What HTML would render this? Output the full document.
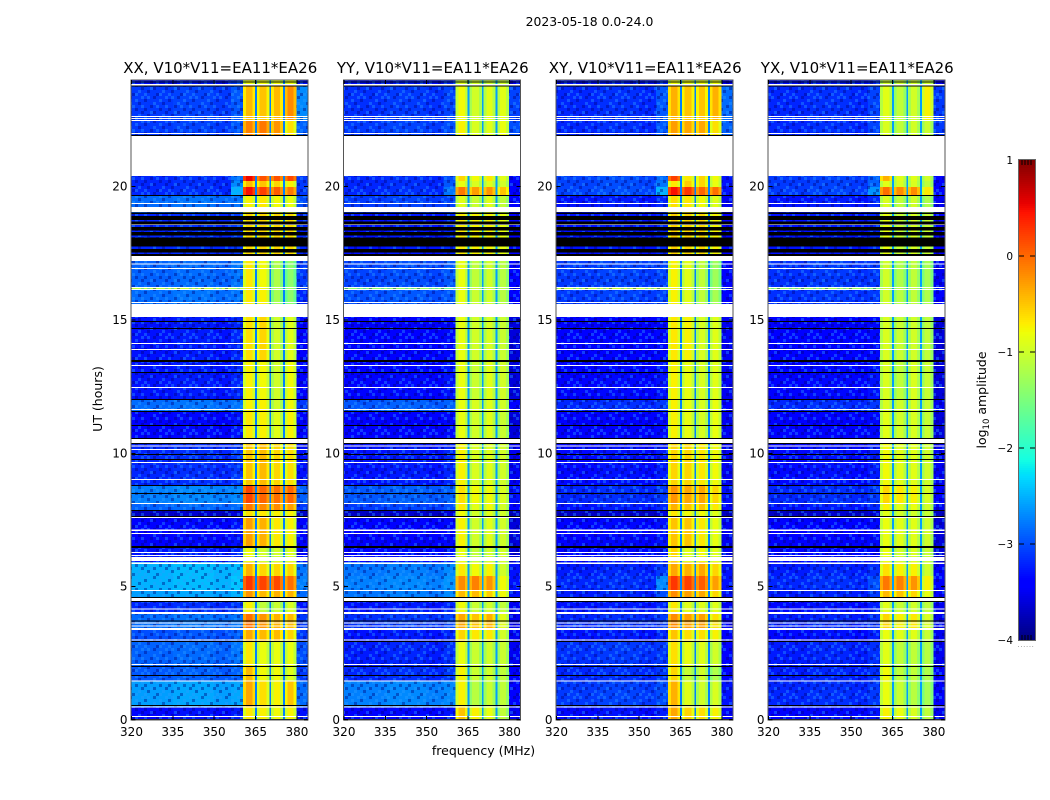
<!DOCTYPE html>
<html lang="en">
<head>
<meta charset="utf-8">
<title>2023-05-18 0.0-24.0</title>
<style>
html,body{margin:0;padding:0;background:#fff;}
svg{display:block;}
text{font-family:"DejaVu Sans","Liberation Sans",sans-serif;fill:#000;}
</style>
</head>
<body>
<svg id="figure" xmlns="http://www.w3.org/2000/svg" width="1050" height="800" viewBox="0 0 1050 800" shape-rendering="crispEdges">
  <defs>
    <pattern id="speckle" width="24" height="24" patternUnits="userSpaceOnUse">
      <g fill="#000078">
        <rect x="0" y="3" width="3" height="3"/><rect x="9" y="0" width="3" height="3"/>
        <rect x="18" y="6" width="3" height="3"/><rect x="6" y="9" width="3" height="3"/>
        <rect x="15" y="12" width="3" height="3"/><rect x="21" y="15" width="3" height="3"/>
        <rect x="3" y="18" width="3" height="3"/><rect x="12" y="21" width="3" height="3"/>
        <rect x="9" y="15" width="3" height="3"/><rect x="0" y="12" width="3" height="3"/>
      </g>
      <g fill="#2a9cff">
        <rect x="3" y="0" width="3" height="3"/><rect x="15" y="3" width="3" height="3"/>
        <rect x="21" y="0" width="3" height="3"/><rect x="9" y="6" width="3" height="3"/>
        <rect x="0" y="21" width="3" height="3"/><rect x="18" y="18" width="3" height="3"/>
        <rect x="6" y="15" width="3" height="3"/><rect x="12" y="9" width="3" height="3"/>
        <rect x="21" y="9" width="3" height="3"/><rect x="15" y="21" width="3" height="3"/>
      </g>
    </pattern>
  </defs>
  <text x="589.5" y="26" font-size="12.4" text-anchor="middle">2023-05-18 0.0-24.0</text>
  <text x="0" y="0" font-size="12.5" text-anchor="middle" transform="translate(102,399) rotate(-90)">UT (hours)</text>
  <text x="483.5" y="755" font-size="12.5" text-anchor="middle">frequency (MHz)</text>
  <g id="panels"></g>
  <g id="colorbar"></g>
  <text x="0" y="0" font-size="12.5" text-anchor="middle" transform="translate(986,400) rotate(-90)">log<tspan font-size="8.5" dy="3">10</tspan><tspan dy="-3"> amplitude</tspan></text>
</svg>
<script>
// ---- categories and axes ----
const panelTitles = ["XX, V10*V11=EA11*EA26", "YY, V10*V11=EA11*EA26", "XY, V10*V11=EA11*EA26", "YX, V10*V11=EA11*EA26"];
const freqTicks = [320, 335, 350, 365, 380];
const hourTicks = [0, 5, 10, 15, 20];
const colorTicks = [1, 0, -1, -2, -3, -4];

// ---- frequency channels (MHz) ----
const freqEdges = [320,335,350,356,360.5, 361.5,363.8,364.8,365.5, 366.5,369,370,370.6, 371.6,373.9,374.9,375.6, 376.6,378.8,379.8,384];
// which column of a band row feeds each channel (-1 = sub-band gap)
const channelGroup = [0,0,0,1, 2,2,2,-1, 3,3,3,-1, 4,4,4,-1, 5,5,5, 6];
const channelOffset = [-.1,-.05,-.1,-.1, -.15,.12,-.15,0, -.15,.12,-.15,0, -.15,.12,-.15,0, -.15,.12,-.15, -.1];
const gapLevels = [-2.75, -2.6, -2.75, -2.6];

// ---- time bands (hours) ----
const bandEdges = [0,.47,1.46,1.99,2.93,3.38,3.98,4.61,4.88,5.4,5.93,6.45,7.65,7.88,8.14,8.78,10.39,11.59,12.04,13.46,15.11,16.15,16.22,17.21,18.98,19.69,19.99,20.21,20.4,21.9,22.5,23.78,24];

// ---- log10 amplitude per band: [low, low-edge, sub1, sub2, sub3, sub4, high] ----
const levelsXX = [
[-3.25,-3.15,-.8,-.85,-.9,-.85,-3.2],[-2.5,-2.45,-.45,-.75,-.85,-.6,-2.75],[-2.85,-2.8,-.55,-.9,-.9,-1,-3],[-2.8,-2.7,-.8,-.95,-.95,-.95,-2.9],
[-2.9,-2.8,-.45,-.55,-.55,-.7,-3],[-2.75,-2.7,-.15,-.35,-.5,-.55,-3],[-3.1,-3,-.85,-1.2,-1.15,-1.05,-3.2],[-2.5,-2.4,-.35,-.55,-.5,-.5,-2.75],
[-2.4,-2.3,.15,.08,.05,-.15,-2.65],[-2.4,-2.35,-.5,-.7,-.7,-.7,-2.7],[-3.2,-3.1,-.9,-1.1,-1.1,-1,-3.3],[-3.3,-3.2,-.4,-.5,-.8,-.85,-3.3],
[-3.6,-3.5,-.75,-.8,-.85,-.85,-3.6],[-2.8,-2.75,-.2,-.3,-.3,-.4,-3],[-2.65,-2.6,.08,-.1,-.15,-.1,-2.8],[-3.1,-3,-.6,-.55,-.7,-.75,-3.2],
[-3.3,-3.2,-.8,-.85,-1,-.85,-3.3],[-2.75,-2.7,-.85,-.85,-1.1,-.9,-3],[-3.2,-3.1,-.85,-.9,-1.1,-.9,-3.3],[-3.2,-3.1,-.75,-.7,-1.1,-1,-3.3],
[-2.75,-2.7,-.8,-.85,-1.35,-1.5,-3.1],[-1,-1.2,-.8,-.9,-1.3,-1.4,-3],[-2.8,-2.7,-.8,-.9,-1.3,-1.5,-3],[-3.1,-3,-.7,-.7,-.7,-.7,-3.1],
[-2.75,-2.7,-.85,-.8,-.9,-.95,-2.9],[-3.1,-2.4,.35,.1,-.05,-.2,-3],[-3.1,-2.6,-.55,-.6,-.7,-.85,-3],[-3.1,-2.7,.4,0,0,.05,-3],
[-4,-4,-4,-4,-4,-4,-4],[-3,-2.85,-.25,-.2,-.35,-.75,-2.8],[-3,-2.85,-.55,-.6,-.55,-.3,-2.6],[-3.2,-3,-.9,-.9,-.9,-.9,-3.2]];
const levelsYY = [
[-3.3,-3.2,-.6,-.85,-.95,-1.2,-3.4],[-2.65,-2.6,-.85,-1.25,-1.15,-1.2,-3.3],[-3.1,-3,-.85,-1.15,-1.1,-1.2,-3.3],[-3.15,-3.05,-.95,-1.15,-1.1,-1.15,-3.4],
[-3.2,-3.1,-.7,-.8,-.8,-1.1,-3.4],[-3.05,-2.95,-.45,-.6,-.5,-1,-3.4],[-3.2,-3.1,-.9,-1.15,-1.1,-1.2,-3.4],[-2.7,-2.6,-.55,-.55,-.65,-.9,-3.2],
[-2.65,-2.55,-.3,-.25,-.35,-.9,-3.2],[-2.7,-2.6,-.8,-.9,-.85,-1.1,-3.2],[-3.3,-3.2,-.95,-1.2,-1.1,-1.1,-3.5],[-3.35,-3.25,-.85,-1.1,-1,-1.1,-3.5],
[-3.6,-3.5,-.9,-1.1,-1,-1.1,-3.6],[-3,-2.9,-.8,-1,-.9,-1.1,-3.3],[-2.85,-2.8,-.75,-.9,-.9,-1.05,-3.2],[-3.2,-3.1,-.85,-1.05,-1,-1.1,-3.4],
[-3.35,-3.25,-.95,-1.1,-1,-1.15,-3.5],[-2.85,-2.8,-.95,-1.05,-1,-1.1,-3.3],[-3.3,-3.2,-.95,-1.15,-1,-1.1,-3.5],[-3.35,-3.25,-.95,-1.1,-1.05,-1.15,-3.5],
[-2.9,-2.85,-.95,-1.15,-1.1,-1.25,-3.3],[-1.3,-1.5,-.95,-1.15,-1.1,-1.25,-3.3],[-2.95,-2.85,-.95,-1.2,-1.1,-1.25,-3.3],[-3.2,-3.1,-.8,-.85,-.85,-.95,-3.3],
[-3,-2.95,-1,-1.15,-1,-1.2,-3.3],[-3.1,-2.7,-.2,-.4,-.35,-.6,-3.3],[-3.1,-2.85,-.95,-1.05,-1,-1.1,-3.3],[-3.1,-2.9,-.7,-.9,-.8,-1,-3.3],
[-4,-4,-4,-4,-4,-4,-4],[-3,-2.9,-.85,-1.05,-1,-.95,-2.9],[-3.05,-2.95,-.9,-1.1,-1,-1,-2.95],[-3.2,-3.1,-1,-1.1,-1.1,-1.1,-3.3]];
const levelsXY = [
[-3.25,-3.15,-.45,-.7,-.75,-.85,-3.3],[-3,-2.9,-.5,-1,-1.1,-1.05,-3.2],[-3.1,-3,-.7,-1.15,-1.1,-1.3,-3.3],[-3.05,-3,-.75,-.95,-1,-1.1,-3.3],
[-3.2,-3.1,-.6,-.75,-.75,-.85,-3.3],[-3.1,-3,-.3,-.4,-.4,-.75,-3.3],[-3.2,-3.1,-.8,-1,-1,-1,-3.4],[-3.15,-2.9,-.3,-.4,-.45,-.7,-3.2],
[-3.1,-2.6,.15,.1,-.05,-.4,-3.2],[-3.15,-3,-.45,-.5,-.45,-.7,-3.2],[-3.3,-3.2,-.7,-1,-.9,-1,-3.4],[-3.3,-3.2,-.6,-.6,-.8,-.95,-3.4],
[-3.6,-3.5,-.8,-.9,-.9,-1,-3.6],[-3.2,-3.1,-.5,-.6,-.6,-.8,-3.3],[-3.1,-3,-.35,-.45,-.45,-.7,-3.2],[-3.25,-3.15,-.7,-.7,-.8,-.9,-3.4],
[-3.35,-3.25,-.85,-.95,-1.05,-.95,-3.4],[-3.1,-3,-.85,-.95,-1.05,-.95,-3.3],[-3.3,-3.2,-.85,-.95,-1.05,-1,-3.4],[-3.35,-3.25,-.8,-.85,-1.05,-1,-3.4],
[-3,-2.95,-.85,-1,-1.2,-1.35,-3.3],[-1,-1.1,-.85,-1,-1.2,-1.35,-3.3],[-3,-2.95,-.85,-1,-1.2,-1.4,-3.3],[-3.2,-3.1,-.65,-.7,-.7,-.85,-3.3],
[-3.2,-3.1,-.75,-.8,-.9,-1,-3.4],[-2.95,-2.4,.35,.15,-.1,-.15,-3.2],[-2.95,-2.7,-.8,-.65,-.7,-.95,-3.2],[-2.95,-2.75,.1,-.8,-.7,-.9,-3.2],
[-4,-4,-4,-4,-4,-4,-4],[-3.1,-2.85,-.4,-.45,-.45,-.75,-2.8],[-3.1,-2.85,-.5,-.6,-.6,-.5,-2.75],[-3.2,-3.1,-.9,-.9,-.9,-.9,-3.3]];
const levelsYX = [
[-3.3,-3.2,-.85,-.95,-1.05,-1.2,-3.4],[-3.1,-3,-.95,-1.15,-1.25,-1.35,-3.3],[-3.15,-3.05,-.9,-1.2,-1.2,-1.3,-3.3],[-3.15,-3.05,-1,-1.2,-1.2,-1.25,-3.4],
[-3.25,-3.15,-.95,-1,-1,-1.15,-3.4],[-3.15,-3.05,-.7,-.85,-.8,-1.05,-3.4],[-3.25,-3.15,-1,-1.15,-1.1,-1.2,-3.4],[-3.15,-3,-.55,-.6,-.7,-.95,-3.3],
[-3.1,-2.9,-.2,-.25,-.35,-.85,-3.3],[-3.15,-3.05,-.75,-.85,-.85,-1.1,-3.3],[-3.35,-3.25,-.95,-1.1,-1.05,-1.15,-3.5],[-3.35,-3.25,-.95,-1,-1,-1.1,-3.5],
[-3.6,-3.5,-1,-1.1,-1.1,-1.15,-3.6],[-3.2,-3.1,-.85,-1,-.95,-1.1,-3.4],[-3.1,-3,-.7,-.8,-.85,-1.05,-3.3],[-3.25,-3.15,-.9,-1,-1,-1.1,-3.4],
[-3.35,-3.25,-1,-1.1,-1.05,-1.15,-3.5],[-3.1,-3,-1.05,-1.1,-1.05,-1.15,-3.4],[-3.3,-3.2,-1.05,-1.2,-1.05,-1.15,-3.5],[-3.35,-3.25,-1.05,-1.15,-1.1,-1.2,-3.5],
[-3.05,-3,-1.1,-1.25,-1.2,-1.3,-3.3],[-1.2,-1.4,-1.1,-1.25,-1.2,-1.3,-3.3],[-3.05,-3,-1.1,-1.3,-1.2,-1.35,-3.4],[-3.2,-3.1,-.95,-1.15,-1.05,-1.15,-3.3],
[-3.2,-3.1,-1.05,-1.2,-1.1,-1.3,-3.4],[-3,-2.55,-.15,-.3,-.3,-.8,-3.3],[-3,-2.8,-1,-1.05,-1.05,-1.2,-3.3],[-3,-2.8,-.5,-1,-1,-1.1,-3.3],
[-4,-4,-4,-4,-4,-4,-4],[-3.1,-2.95,-1.05,-1.2,-1.1,-1.15,-3],[-3.1,-2.95,-1,-1.2,-1.1,-.85,-3],[-3.2,-3.1,-1.1,-1.1,-1.1,-1.1,-3.3]];
const panelLevels = [levelsXX, levelsYY, levelsXY, levelsYX];

// ---- flagged time ranges (hours), common to all four products ----
const whiteFlags = [[.11,.15],[.47,.51],[1.44,1.48],[2.06,2.1],[2.98,3.02],[3.38,3.45],[3.51,3.54],[3.62,3.66],[3.98,4.05],[4.14,4.18],[4.46,4.58],[4.84,4.88],[5.85,5.91],[5.96,6.11],[6.15,6.19],[6.26,6.3],[6.98,7.01],[7.09,7.14],[7.58,7.61],[8.1,8.14],[9,9.04],[9.64,9.68],[10.13,10.16],[10.26,10.3],[10.39,10.54],[11.63,11.66],[12.45,12.49],[13.28,13.31],[13.88,13.91],[14.1,14.14],[15.11,15.6],[15.64,15.68],[16.13,16.16],[16.2,16.24],[16.91,16.95],[17.08,17.12],[17.21,17.4],[18.56,18.58],[19.05,19.24],[19.35,19.39],[20.4,21.9],[21.98,22.01],[22.46,22.5],[22.54,22.58],[22.61,22.65],[23.79,23.85]];
const blackFlags = [[0,.03],[.52,.56],[1.65,1.69],[1.99,2.03],[2.93,2.96],[3.69,3.73],[4.42,4.46],[4.58,4.61],[6.45,6.53],[7.61,7.65],[7.84,7.88],[8.48,8.51],[8.78,8.81],[9.75,9.79],[9.94,9.98],[10.35,10.39],[10.54,10.58],[11.03,11.06],[11.55,11.59],[12,12.04],[13.01,13.05],[13.43,13.5],[14.66,14.7],[14.93,14.96],[17.4,17.48],[17.54,17.66],[17.75,18.09],[18.16,18.3],[18.35,18.49],[18.58,18.69],[18.75,18.9],[18.98,19.03],[19.65,19.69],[21.9,21.94],[23.75,23.79],[23.91,23.95]];

// ---- axis functions ----
const panelLefts = [131.5, 344, 556.5, 768.5];
const plotWidth = 176.5;
const PX_PER_MHZ = plotWidth / 64;
const PX_PER_HOUR = 640 / 24;
function xScale(panel, mhz) { return panelLefts[panel] + (mhz - 320) * PX_PER_MHZ; }
function yScale(hour) { return 720 - hour * PX_PER_HOUR; }
function jetChannel(x) { return Math.max(0, Math.min(1, x)); }
function jet(v) {
  const f = (v + 4) / 5;
  const r = f < .35 ? 0 : f < .66 ? (f - .35) / .31 : f < .89 ? 1 : 1 - (f - .89) / .11 * .5;
  const g = f < .125 ? 0 : f < .375 ? (f - .125) / .25 : f < .64 ? 1 : f < .91 ? 1 - (f - .64) / .27 : 0;
  const b = f < .11 ? .5 + f / .11 * .5 : f < .34 ? 1 : f < .65 ? 1 - (f - .34) / .31 : 0;
  return "rgb(" + [r, g, b].map(c => Math.round(jetChannel(c) * 255)).join(",") + ")";
}
const SVGNS = "http://www.w3.org/2000/svg";
function make(tag, attrs, parent) {
  const el = document.createElementNS(SVGNS, tag);
  for (const k in attrs) el.setAttribute(k, attrs[k]);
  parent.appendChild(el);
  return el;
}

// ---- panels ----
const panelsRoot = document.getElementById("panels");
panelTitles.forEach(function (title, p) {
  const g = make("g", {}, panelsRoot);
  
  
  const rows = panelLevels[p];

  rows.forEach(function (row, b) {
    const y1 = yScale(bandEdges[b + 1]), y0 = yScale(bandEdges[b]);
    channelGroup.forEach(function (grp, c) {
      const val = (grp < 0 ? gapLevels[p] : row[grp]) + channelOffset[c];
      const x0 = xScale(p, freqEdges[c]), x1 = xScale(p, freqEdges[c + 1]);
      const cell = make("rect", { x: x0, y: y1, width: x1 - x0, height: y0 - y1, fill: jet(val) }, g);
      
      
    });
  });

  // fine grain over the quiet and the in-band channels
  const grainLow = make("rect", { x: xScale(p, 320), y: 80.5, width: xScale(p, 360.5) - xScale(p, 320), height: 639.5, fill: "url(#speckle)", opacity: .4 }, g);
  
  
  const grainHigh = make("rect", { x: xScale(p, 379.8), y: 80.5, width: xScale(p, 384) - xScale(p, 379.8), height: 639.5, fill: "url(#speckle)", opacity: .4 }, g);
  
  

  whiteFlags.forEach(function (f) {
    const r = make("rect", { x: panelLefts[p], y: yScale(f[1]), width: plotWidth, height: yScale(f[0]) - yScale(f[1]), fill: "#fff" }, g);
    
    
  });
  blackFlags.forEach(function (f) {
    const r = make("rect", { x: panelLefts[p], y: yScale(f[1]), width: plotWidth, height: yScale(f[0]) - yScale(f[1]), fill: "#000" }, g);
    
    
  });

  const frame = make("rect", { x: panelLefts[p] - .5, y: 80, width: plotWidth + .5, height: 640, fill: "none", stroke: "#555", "stroke-width": 1.4 }, g);
  
  

  const t = make("text", { x: panelLefts[p] + plotWidth / 2 + .5, y: 73, "font-size": 15, "text-anchor": "middle" }, g);
  t.textContent = title;
  
  

  freqTicks.forEach(function (f) {
    const x = xScale(p, f);
    const a = make("line", { x1: x, x2: x, y1: 720, y2: 716, stroke: "#000" }, g);
    
    
    const a2 = make("line", { x1: x, x2: x, y1: 80, y2: 84, stroke: "#000" }, g);
    
    
    const l = make("text", { x: x, y: 736, "font-size": 12, "text-anchor": "middle" }, g);
    l.textContent = f;
    
    
  });
  hourTicks.forEach(function (h) {
    const y = yScale(h);
    const a = make("line", { x1: panelLefts[p], x2: panelLefts[p] + 4, y1: y, y2: y, stroke: "#000" }, g);
    
    
    const a2 = make("line", { x1: panelLefts[p] + plotWidth, x2: panelLefts[p] + plotWidth - 4, y1: y, y2: y, stroke: "#000" }, g);
    
    
    const l = make("text", { x: panelLefts[p] - 4, y: y + 4, "font-size": 12, "text-anchor": "end" }, g);
    l.textContent = h;
    
    
  });
});

// ---- colour bar ----
const cbRoot = document.getElementById("colorbar");
const cbX = 1019, cbW = 16, cbTop = 160, cbBottom = 640;
function cbScale(v) { return cbBottom - (v + 4) / 5 * (cbBottom - cbTop); }
for (let py = cbTop; py < cbBottom; py += 2) {
  const v = -4 + (cbBottom - py - 1) / (cbBottom - cbTop) * 5;
  const s = make("rect", { x: cbX, y: py, width: cbW, height: 2, fill: jet(v) }, cbRoot);
  
  
}
const cbFrame = make("rect", { x: cbX - .5, y: cbTop - .5, width: cbW + 1, height: cbBottom - cbTop + 1, fill: "none", stroke: "#666", "stroke-width": 1.4 }, cbRoot);


colorTicks.forEach(function (v) {
  const y = cbScale(v);
  if (v < 1 && v > -4) {
    const a = make("line", { x1: cbX, x2: cbX + 5, y1: y, y2: y, stroke: "#000" }, cbRoot);
    
    
    const b = make("line", { x1: cbX + cbW - 5, x2: cbX + cbW, y1: y, y2: y, stroke: "#000" }, cbRoot);
    
    
  }
  const l = make("text", { x: 1013, y: y + 4, "font-size": 10.5, "text-anchor": "end" }, cbRoot);
  l.textContent = String(v).replace("-", "\u2212");
  
  
});
[3, 6, 9, 12].forEach(function (dx) {
  const top = make("line", { x1: cbX + dx, x2: cbX + dx, y1: cbTop, y2: cbTop + 5, stroke: "#000" }, cbRoot);
  
  
  const bot = make("line", { x1: cbX + dx, x2: cbX + dx, y1: cbBottom, y2: cbBottom - 5, stroke: "#000" }, cbRoot);
  
  
});
const cbDots = make("text", { x: 1026, y: 647, "font-size": 7, "text-anchor": "middle", style: "fill:#888;letter-spacing:.6px" }, cbRoot);
cbDots.textContent = "......";


</script>
</body>
</html>
